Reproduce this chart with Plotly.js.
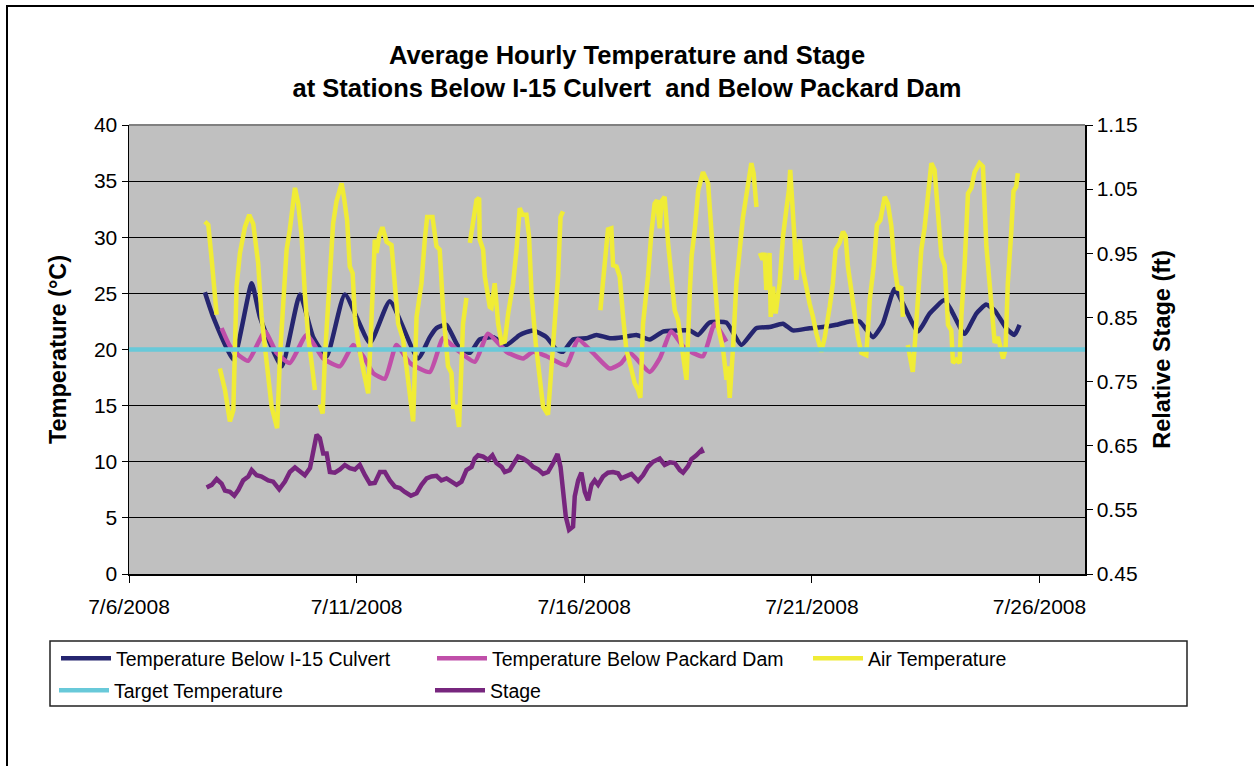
<!DOCTYPE html>
<html>
<head>
<meta charset="utf-8">
<script src="https://cdn.plot.ly/plotly-3.0.1.min.js"></script>
<style>
  html, body { margin: 0; padding: 0; background: #ffffff; overflow: hidden; }
  #chart { width: 1254px; height: 766px; }
</style>
</head>
<body>
<div id="chart"></div>
<script>
// ---- Data (hours after 7/6/2008 00:00) ----
const startDate = '2008-07-06';

const culvertHours = [40.0,44.4,55.0,64.7,69.0,80.5,90.1,97.1,104.2,113.8,127.0,137.5,152.4,158.6,162.1,167.3,173.5,179.7,184.9,192.0,199.0,206.0,213.0,220.1,225.3,228.8,234.1,241.2,246.4,253.4,260.4,267.5,274.5,281.5,288.6,295.6,300.0,306.1,314.9,322.8,330.7,337.7,344.7,350.0,358.8,365.8,372.9,379.9,385.2,392.2,397.4,403.6,408.0,415.9,422.1,429.9,433.5,440.5,446.7,451.9,456.3,462.5,466.8,469.5];
const culvertTemp = [25.1,22.9,19.1,25.9,22.9,18.5,24.9,21.1,19.4,24.9,20.6,24.3,19.2,21.1,21.9,22.2,20.3,19.7,20.9,21.1,20.4,21.3,21.7,21.1,20.0,19.8,20.9,21.0,21.3,21.0,21.1,21.3,20.9,21.6,21.7,21.7,21.3,22.4,22.4,20.4,21.9,22.0,22.3,21.7,21.9,22.0,22.2,22.5,22.5,21.1,22.3,25.4,24.1,21.6,23.2,24.4,23.5,21.4,23.2,24.0,23.5,21.9,21.3,22.2];

const packardHours = [48.8,53.2,58.5,62.9,71.7,77.8,84.8,93.6,102.4,111.2,118.2,123.5,128.7,134.9,141.0,148.1,158.6,165.6,172.7,182.3,189.3,199.0,207.8,213.0,220.1,230.6,236.7,244.6,253.4,259.6,264.0,274.5,279.8,285.9,292.0,297.3,302.6,308.8,314.9];
const packardTemp = [21.9,20.3,19.4,19.0,21.6,19.7,18.8,21.3,19.2,18.5,20.4,19.4,17.9,17.4,20.4,18.8,18.0,21.0,20.0,18.9,21.4,19.8,19.2,19.8,19.4,18.6,20.9,19.7,18.3,18.8,19.7,18.0,19.2,21.6,20.3,19.7,19.4,22.3,20.7];

// null marks a gap in the air temperature record
const airHours = [
  40.0,41.8,43.6,45.3,46.2, null,
  47.9,50.6,53.2,55.0,56.7,58.5,61.1,63.4,65.5,68.1,69.9,72.6,75.2,78.1,79.6,82.2,83.1,84.8,87.5,89.2,91.0,92.7,94.5,96.3,98.0, null,
  100.6,102.1,103.3,105.9,107.6,109.4,111.2,112.1,113.3,115.0,116.4,117.9,119.1,120.8,123.5,126.1,127.9,129.6,130.5,131.9,133.6,135.8,138.4,140.2,141.9,144.5,147.2,148.1,149.8,151.6,154.2,156.0,157.2,160.0,162.1,163.8,165.6,168.2,170.0,170.9,172.6,174.0,175.3,176.1,177.9, null,
  179.7,181.4,183.2,184.6,184.9,186.7,187.6,190.2,191.1,192.8,194.6,196.4,198.1,199.9,202.5,204.3,206.0,207.4,209.5,210.9,212.2,214.4,216.6,218.3,220.9,222.7,224.5,226.2,227.5,228.8, null,
  248.5,251.3,252.5,254.3,255.2,257.0,258.7,260.5,262.2,264.9,266.6,268.4,269.6,271.0,273.6,275.4,277.1,278.4,279.8,280.7,282.4,284.2,286.0,287.7,289.5,291.3,293.0,293.9,295.7,296.6,298.3,300.1,302.6,305.3,307.1,308.8,310.6,313.2,315.0,315.8,316.7,318.4,320.2,322.0,323.7,325.8,328.1,329.3,330.8, null,
  332.6,334.0,335.1,336.0,337.7,338.3,339.5,340.9,343.0,344.8,346.5,347.9,348.6,349.7,351.0,351.8,353.6,355.3,357.1,358.8,360.6,362.4,365.0,366.8,369.4,371.1,372.5,374.6,376.4,377.8,379.0,380.8,382.5,384.3,386.1,388.7,390.5,392.6,394.3,396.1,398.4,400.1,401.9,403.6,405.4,407.1,408.0, null,
  410.6,411.5,413.2,414.1,415.9,417.7,419.4,421.2,423.0,424.7,426.5,428.3,430.0,430.9,431.8,433.5,434.4,436.2,437.9,438.8,440.5,442.3,444.1,445.8,448.4,450.2,452.0,453.7,455.5,456.4,458.1,459.9,460.8,462.1,463.3,465.1,466.3,467.7,468.6
];
const airTemp = [
  31.4,31.1,28.0,25.3,23.1, null,
  18.3,16.4,13.6,14.6,25.6,28.6,30.9,32.0,31.2,27.7,22.9,18.5,14.9,13.0,19.4,26.5,28.9,30.7,34.4,33.0,30.1,25.0,21.1,18.8,16.4, null,
  15.1,14.3,19.4,25.9,31.2,33.2,34.2,34.8,33.6,31.5,27.4,26.8,22.9,20.6,18.2,16.1,22.9,29.8,28.6,30.1,30.9,29.6,29.3,25.9,22.3,20.9,17.3,15.8,13.6,22.9,25.9,29.9,31.8,31.8,29.2,28.9,23.5,18.5,17.9,14.9,14.9,13.1,19.4,22.3,24.6, null,
  29.5,31.2,33.3,33.5,29.8,28.9,26.5,23.8,23.7,25.9,22.3,20.6,20.7,23.2,25.9,28.9,32.6,32.0,32.0,30.1,25.0,20.6,17.6,14.9,14.2,18.5,21.7,26.5,31.8,32.3, null,
  23.5,28.6,30.7,30.8,27.5,27.4,26.5,22.9,20.0,18.2,17.0,16.4,15.7,22.3,26.5,30.4,33.0,33.3,30.8,33.2,33.6,29.5,26.2,23.5,22.6,20.3,18.2,17.3,25.3,28.3,30.7,34.2,35.8,34.8,30.4,25.9,22.0,20.0,17.3,18.5,15.7,20.0,25.9,28.9,31.8,34.1,36.6,35.7,32.7, null,
  28.6,28.0,28.6,25.3,28.6,22.9,25.6,23.2,25.9,30.1,32.4,34.2,36.0,33.3,29.5,26.2,29.8,27.1,25.3,24.1,22.9,21.4,19.8,21.1,23.8,25.9,28.9,29.5,30.5,30.1,27.4,25.3,22.9,21.1,19.7,19.5,24.4,27.4,31.1,31.5,33.6,33.0,31.0,27.4,25.3,25.6,22.9, null,
  20.4,19.5,18.0,20.0,24.4,28.9,30.8,34.2,36.6,36.0,31.8,28.3,27.5,24.7,22.2,21.7,18.8,19.1,18.8,22.9,27.4,33.9,34.4,35.8,36.6,36.3,29.2,25.9,22.9,20.6,21.1,20.0,19.2,20.0,25.9,30.4,34.1,34.5,35.7
];

const targetDates = ['2008-07-06', '2008-07-27'];
const targetTemp = [20, 20];

const stageHours = [40.9,43.6,46.2,48.8,50.6,53.2,55.5,57.6,60.2,62.9,64.7,67.3,69.9,73.4,76.0,79.2,82.2,84.8,87.5,90.1,92.7,95.4,97.1,98.9,100.6,102.4,104.2,105.9,108.5,111.2,113.8,116.4,119.1,121.7,124.4,127.0,129.6,132.3,134.9,137.5,140.2,142.8,145.4,148.6,151.6,154.2,156.9,159.5,162.1,164.7,167.4,170.0,172.7,175.3,177.9,180.6,182.3,184.0,186.7,189.3,191.6,193.7,196.4,198.1,200.7,203.4,205.1,207.8,210.4,213.0,215.7,218.3,220.9,223.6,225.9,227.5,228.8,230.3,232.0,234.1,235.0,236.8,238.5,240.3,242.0,243.8,245.5,247.3,249.9,252.5,255.1,257.8,259.5,262.2,264.9,268.4,271.0,273.6,276.3,279.8,282.4,285.1,287.7,290.4,292.1,294.7,296.5,299.1,301.8,302.6];
const stageFt = [0.585,0.589,0.598,0.591,0.580,0.578,0.572,0.581,0.596,0.602,0.612,0.604,0.602,0.596,0.594,0.582,0.594,0.609,0.616,0.609,0.604,0.615,0.638,0.667,0.662,0.638,0.638,0.609,0.608,0.613,0.620,0.615,0.613,0.620,0.604,0.591,0.592,0.609,0.609,0.596,0.586,0.584,0.578,0.572,0.576,0.589,0.599,0.602,0.603,0.596,0.599,0.594,0.589,0.594,0.612,0.617,0.630,0.635,0.633,0.628,0.635,0.623,0.617,0.609,0.612,0.625,0.633,0.630,0.625,0.617,0.613,0.606,0.609,0.623,0.637,0.617,0.576,0.539,0.519,0.524,0.571,0.596,0.608,0.578,0.565,0.589,0.596,0.589,0.602,0.608,0.609,0.607,0.599,0.602,0.606,0.595,0.604,0.617,0.625,0.630,0.620,0.624,0.623,0.612,0.608,0.618,0.629,0.635,0.643,0.638];

const xTickLabels = ['7/6/2008','7/11/2008','7/16/2008','7/21/2008','7/26/2008'];
const xTickDates = ['2008-07-06','2008-07-11','2008-07-16','2008-07-21','2008-07-26'];

// ---- helpers ----
function toDates(hours) {
  const base = Date.UTC(2008, 6, 6);
  const pad = n => String(n).padStart(2, '0');
  return hours.map(h => {
    if (h === null) return null;
    const d = new Date(base + Math.round(h * 60) * 60000);
    return d.getUTCFullYear() + '-' + pad(d.getUTCMonth() + 1) + '-' + pad(d.getUTCDate()) +
      ' ' + pad(d.getUTCHours()) + ':' + pad(d.getUTCMinutes());
  });
}

const FONT = 'Arial, "Liberation Sans", sans-serif';
const LW = 4.5;

const traces = [
  { x: toDates(culvertHours), y: culvertTemp, name: 'Temperature Below I-15 Culvert', type: 'scatter', mode: 'lines',
    line: { color: '#25256F', width: LW, shape: 'spline', smoothing: 0.5 }, legend: 'legend' },
  { x: toDates(packardHours), y: packardTemp, name: 'Temperature Below Packard Dam', type: 'scatter', mode: 'lines',
    line: { color: '#C04FA9', width: LW, shape: 'spline', smoothing: 0.5 }, legend: 'legend' },
  { x: toDates(airHours), y: airTemp, name: 'Air Temperature', type: 'scatter', mode: 'lines', connectgaps: false,
    line: { color: '#F0EC36', width: LW }, legend: 'legend' },
  { x: targetDates, y: targetTemp, name: 'Target Temperature', type: 'scatter', mode: 'lines',
    line: { color: '#68C9D9', width: LW }, legend: 'legend2' },
  { x: toDates(stageHours), y: stageFt, name: 'Stage', type: 'scatter', mode: 'lines', yaxis: 'y2',
    line: { color: '#77267E', width: LW }, legend: 'legend2' }
];

const W = 1254, H = 766;
const L = 129, R = 1085, T = 125, B = 574;
const pw = R - L, ph = B - T;
const px = v => (v - L) / pw;
const py = v => (B - v) / ph;

const layout = {
  width: W, height: H,
  margin: { l: L, r: W - R, t: T, b: H - B, pad: 0 },
  paper_bgcolor: '#ffffff',
  plot_bgcolor: '#C0C0C0',
  font: { family: FONT, color: '#000000', size: 20 },
  title: {
    text: '<b>Average Hourly Temperature and Stage<br>at Stations Below I-15 Culvert  and Below Packard Dam</b>',
    font: { family: FONT, size: 25.5, color: '#000000' },
    x: 0.5, xref: 'container', xanchor: 'center',
    y: 1 - 64 / H, yref: 'container', yanchor: 'top'
  },
  xaxis: {
    type: 'date',
    range: ['2008-07-06', '2008-07-27'],
    tickmode: 'array', tickvals: xTickDates, ticktext: xTickLabels,
    ticks: 'outside', ticklen: 7, tickwidth: 1, tickcolor: '#000000',
    ticklabelstandoff: 6,
    showgrid: false, zeroline: false,
    showline: true, linecolor: '#000000', linewidth: 1.5,
    tickfont: { size: 21, family: FONT }
  },
  yaxis: {
    range: [0, 40], tick0: 0, dtick: 5,
    ticks: 'outside', ticklen: 6, tickcolor: '#000000',
    showgrid: true, gridcolor: '#000000', gridwidth: 1,
    zeroline: false, showline: true, linecolor: '#000000', linewidth: 1.5,
    tickfont: { size: 21, family: FONT },
    title: { text: '<b>Temperature (°C)</b>', font: { size: 23.5, family: FONT }, standoff: 20 }
  },
  yaxis2: {
    overlaying: 'y', side: 'right',
    range: [0.45, 1.15], tick0: 0.45, dtick: 0.1, tickformat: '.2f',
    ticks: 'outside', ticklen: 6, tickcolor: '#000000',
    showgrid: false, zeroline: false, showline: true, linecolor: '#000000', linewidth: 1.5,
    tickfont: { size: 21, family: FONT },
    title: { text: '<b>Relative Stage (ft)</b>', font: { size: 23.5, family: FONT }, standoff: 17 }
  },
  showlegend: true,
  legend: {
    orientation: 'h', x: px(1184), xanchor: 'right', y: py(639), yanchor: 'top',
    bgcolor: 'rgba(0,0,0,0)', borderwidth: 0,
    font: { size: 19.5, family: FONT }, itemwidth: 50,
    entrywidth: 311, entrywidthmode: 'pixels', traceorder: 'normal'
  },
  legend2: {
    orientation: 'h', x: px(54), xanchor: 'left', y: py(671), yanchor: 'top',
    bgcolor: 'rgba(0,0,0,0)', borderwidth: 0,
    font: { size: 19.5, family: FONT }, itemwidth: 50,
    entrywidth: 311, entrywidthmode: 'pixels', traceorder: 'normal'
  },
  shapes: [
    // top edge of plot area
    { type: 'line', xref: 'paper', yref: 'paper', x0: 0, x1: 1, y0: 1, y1: 1,
      line: { color: '#808080', width: 2 }, layer: 'above' },
    // legend frame
    { type: 'rect', xref: 'paper', yref: 'paper', x0: px(50), x1: px(1187), y0: py(706), y1: py(641),
      line: { color: '#222222', width: 1.5 }, fillcolor: 'rgba(0,0,0,0)' },
    // outer chart frame
    { type: 'rect', xref: 'paper', yref: 'paper', x0: px(7), x1: px(1262), y0: py(820), y1: py(6),
      line: { color: '#000000', width: 2 }, fillcolor: 'rgba(0,0,0,0)' }
  ]
};

Plotly.newPlot('chart', traces, layout, { displayModeBar: false, staticPlot: true });
</script>
</body>
</html>
